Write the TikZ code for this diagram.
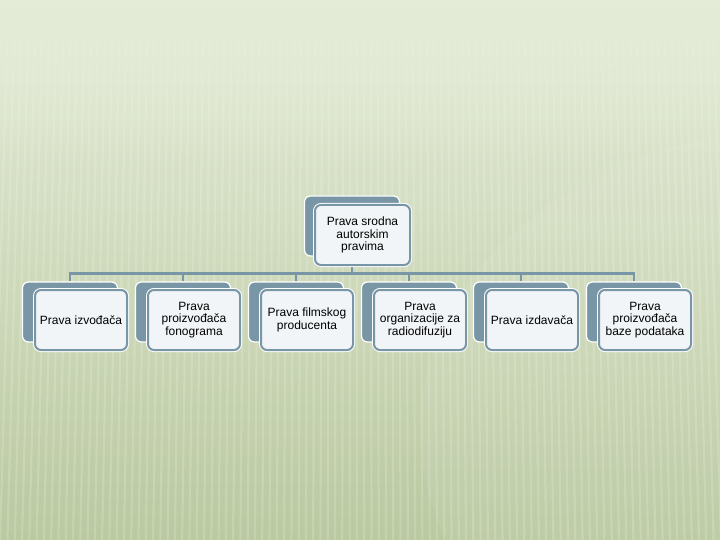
\documentclass[tikz,border=0pt]{standalone}
\usepackage{fontspec}
\setmainfont{Liberation Sans}
\usetikzlibrary{fadings}
\definecolor{bgtop}{RGB}{228,235,215}
\definecolor{bgbot}{RGB}{186,201,160}
\definecolor{slate}{RGB}{120,150,165}
\definecolor{frontfill}{RGB}{241,245,247}
\pgfdeclarelayer{bg}
\pgfdeclarelayer{lines}
\pgfsetlayers{bg,lines,main}
\tikzset{
  backbox/.style={rounded corners=6pt, fill=slate, draw=white, line width=1.2pt,
    minimum width=95pt, minimum height=60pt, inner sep=0pt},
  frontbox/.style={rounded corners=6pt, fill=frontfill, draw=slate, line width=2pt,
    preaction={draw=white, line width=4pt},
    minimum width=92pt, minimum height=60pt, inner sep=2pt, align=center,
    font=\fontsize{12}{12.7}\selectfont, text=black},
  conn/.style={draw=slate, line width=2.6pt}
}
\begin{document}
\begin{tikzpicture}[x=1pt,y=-1pt]
\useasboundingbox (0,0) rectangle (720,540);
\begin{pgfonlayer}{bg}
  \shade[top color=bgtop, bottom color=bgbot] (0,0) rectangle (720,540);
  \fill[white, opacity=0.06] (800,430) ellipse (380 and 300);
  \foreach \x in {0,7,...,720} {
    \draw[white, opacity=0.16, line width=2.2pt] (\x,40) -- ({\x+(\x-360)*0.04},540);
  }
  \fill[bgtop, path fading=south] (0,0) rectangle (720,170);
\end{pgfonlayer}

% top node
\node[backbox] (tb) at (352,226) {};
\node[frontbox, minimum width=95pt] (tf) at (362.5,235) {Prava srodna\\autorskim\\pravima};

% children
\foreach \i/\x/\t in {1/70/{Prava izvođača},
                      2/183/{Prava\\proizvođača\\fonograma},
                      3/296/{Prava filmskog\\producenta},
                      4/409/{Prava\\organizacije za\\radiodifuziju},
                      5/521/{Prava izdavača},
                      6/634/{Prava\\proizvođača\\baze podataka}} {
  \node[backbox] (c\i b) at (\x,312) {};
  \node[frontbox] (c\i f) at (\x+11,320) {\t};
}

\begin{pgfonlayer}{lines}
  \foreach \i in {1,...,6} {
    \draw[conn] (tb.south) -- ++(0,17) -| (c\i b.north);
  }
\end{pgfonlayer}
\end{tikzpicture}
\end{document}
